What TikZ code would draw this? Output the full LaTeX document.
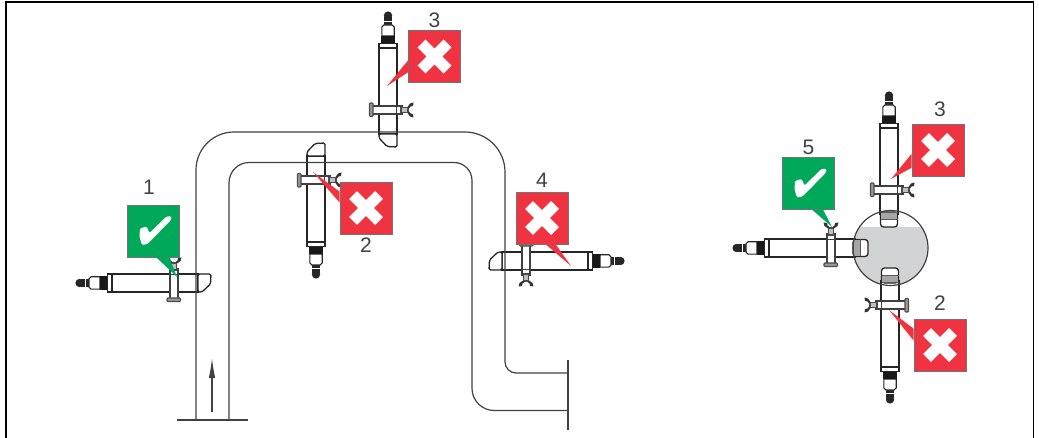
\documentclass[tikz,border=0pt]{standalone}
\usepackage{fontspec}
\setmainfont{Liberation Sans}
\usepackage{tikz}
\usetikzlibrary{positioning, arrows.meta}

\definecolor{okgreen}{HTML}{00A859}
\definecolor{badred}{HTML}{EF3340}
\definecolor{tankgray}{HTML}{D1D3D4}
\definecolor{inkgray}{HTML}{414042}

% head, body and clamp, drawn with the plug upwards
\newcommand{\probebody}{
    \draw[probeline, fill=white] (-9,36) rectangle (9,122);
    \fill[black!85] (0,3.6) circle (4.2);
    \fill[black!85] (-4,5) rectangle (4,13);
    \draw[white, line width=0.5pt] (-4,9.5) -- (4,9.5);
    \draw[probeline, line width=1.1pt, fill=white] (-4,13) -- (-6.2,15) -- (-6.2,24) -- (6.2,24) -- (6.2,15) -- (4,13) -- cycle;
    \fill[black!90] (-7,24) rectangle (7,31.5);
    \draw[probeline, line width=1.1pt, fill=white] (-9,31.5) rectangle (9,36);
    % clamp
    \draw[line width=1.3pt, color=black!75, fill=white] (-15.5,94) rectangle (9,102);
    \draw[line width=1.1pt, color=black!70, fill=black!40, rounded corners=0.8pt] (-18.5,91) rectangle (-15,104.5);
    \draw[line width=1.3pt, color=black!75, fill=white] (9,94) -- (14,94) -- (14,102) -- (9,102);
    \draw[line width=1.2pt, color=black!70, fill=black!25] (13,95.5) rectangle (20,100.5);
    \fill[black!80] (19.5,95) -- (22,91.5) -- (25.5,90.5) -- (25,94) -- (22.5,94.5) -- (21,96.5) -- cycle;
    \fill[black!80] (19.5,101) -- (22,104.5) -- (25.5,105.5) -- (25,102) -- (22.5,101.5) -- (21,99.5) -- cycle;
}

\tikzset{
    probeline/.style={line width=1.3pt, color=black!85},
    pipeline/.style={line width=1.2pt, color=inkgray},
    framing/.style={line width=1.2pt, color=black},
    okbox/.style={rectangle, draw=black!55, line width=0.6pt, fill=okgreen, minimum size=52pt, inner sep=0pt},
    badbox/.style={rectangle, draw=black!55, line width=0.6pt, fill=badred, minimum size=52pt, inner sep=0pt},
    numlabel/.style={font=\fontsize{21}{21}\selectfont, text=inkgray, inner sep=0pt},
    % end with the slanted edge, for the pipe
    pipeprobe/.pic={
        \probebody
        \draw[probeline, fill=white, rounded corners=1.5pt] (-9,122) -- (-9,126) -- (-1,134.5) -- (9,135) -- (9,122) -- cycle;
    },
    % end with the ribs, for the tank
    tankprobe/.pic={
        \probebody
        \draw[probeline, fill=white, rounded corners=3pt] (-8.5,120) -- (-8.5,135) -- (8.5,135) -- (8.5,120) -- cycle;
        \fill[black!35] (-8,121) rectangle (8,127);
        \draw[line width=1pt, color=black!65] (-8.5,120.5) -- (8.5,120.5) (-8.5,127.5) -- (8.5,127.5);
    },
    crossmark/.pic={
        \draw[white, line width=11pt] (-13,-13) -- (13,13) (-13,13) -- (13,-13);
    },
    checkmark/.pic={
        \fill[white, rounded corners=1.2pt] (-13.5,-2.5) -- (-7,-4.5) -- (-4,2) -- (13,-14.5) -- (18,-14.5) -- (17.5,-11) -- (-6,13) -- (-11.5,14) -- (-14,6) -- cycle;
    },
}

\begin{document}
\begin{tikzpicture}
    [
        x=1pt, y=-1pt, on grid,
    ]
        \useasboundingbox (0,0) rectangle (1039,438);
        % frame, open at the bottom
        \draw[framing] (6,438) -- (6,2) -- (1033.5,2) -- (1033.5,438);

        % tank, outline comes after the probes
        \begin{scope}
            \clip (0,228) rectangle (1039,438);
            \fill[tankgray] (890.5,248) circle (37.5);
        \end{scope}

        % probes on the pipe
        \pic[rotate=90] (p1) at (76,283) {pipeprobe};
        \pic[yscale=-1] (p2) at (316,278) {pipeprobe};
        \pic (p3) at (388,12) {pipeprobe};
        \pic[rotate=-90] (p4) at (624,261) {pipeprobe};
        % probes on the tank
        \pic[rotate=180] (t2) at (890,403) {tankprobe};
        \pic (t3) at (889,92) {tankprobe};
        \pic[rotate=90] (t5) at (733,248) {tankprobe};

        \draw[pipeline] (890.5,248) circle (37.5);

        % pipe
        \draw[pipeline] (196,420) -- (196,170) .. controls (196,149) and (213,132) .. (234,132) -- (465,132) .. controls (487,132) and (505,150) .. (505,172) -- (505,362) .. controls (505,368) and (510,373) .. (516,373) -- (568,373);
        \draw[pipeline] (229,420) -- (229,183) .. controls (229,171.5) and (238,162.5) .. (249,162.5) -- (454,162.5) .. controls (464,162.5) and (472,170.5) .. (472,180.5) -- (472,388.5) .. controls (472,400.5) and (482,410.5) .. (494,410.5) -- (568,410.5);
        \draw[pipeline] (177,420) -- (248,420);
        \draw[pipeline, line width=1.3pt] (568,360) -- (568,430);

        % flow direction
        \coordinate (flowtail) at (212,412);
        \coordinate (flowhead) at (212,358);
        \draw[-{Latex[length=20pt, width=6.5pt]}, pipeline] (flowtail) to (flowhead);

        % marks
        \node[okbox] (ok1) at (153.5,231) {};
        \coordinate (ok1tip) at (177,277);
        \fill[okgreen] ([xshift=29pt]ok1.south west) -- ([xshift=42pt]ok1.south west) -- (ok1tip) -- cycle;
        \pic at (ok1) {checkmark};
        \node[numlabel] (n1) [above left = 44pt and 4.5pt of ok1] {1};

        \node[badbox] (bad2) at (366,208) {};
        \coordinate (bad2tip) at (313,172);
        \fill[badred] ([yshift=-10pt]bad2.north west) -- ([yshift=-21pt]bad2.north west) -- (bad2tip) -- cycle;
        \pic at (bad2) {crossmark};
        \node[numlabel] (n2) [below = 37pt of bad2] {2};

        \node[badbox] (bad3) at (434.5,56.5) {};
        \coordinate (bad3tip) at (387,86);
        \fill[badred] ([yshift=-30pt]bad3.north west) -- ([yshift=-42pt]bad3.north west) -- (bad3tip) -- cycle;
        \pic at (bad3) {crossmark};
        \node[numlabel] (n3) [above = 36.5pt of bad3] {3};

        \node[badbox] (bad4) at (542,218) {};
        \coordinate (bad4tip) at (571,266);
        \fill[badred] ([xshift=30pt]bad4.south west) -- ([xshift=40pt]bad4.south west) -- (bad4tip) -- cycle;
        \pic at (bad4) {crossmark};
        \node[numlabel] (n4) [above = 38pt of bad4] {4};

        \node[badbox] (bad5) at (938,150) {};
        \coordinate (bad5tip) at (891,179);
        \fill[badred] ([yshift=-30pt]bad5.north west) -- ([yshift=-44pt]bad5.north west) -- (bad5tip) -- cycle;
        \pic at (bad5) {crossmark};
        \node[numlabel] (n5) [above right = 41pt and 2pt of bad5] {3};

        \node[okbox] (ok2) at (808.5,183.5) {};
        \coordinate (ok2tip) at (832,227);
        \fill[okgreen] ([xshift=30pt]ok2.south west) -- ([xshift=41pt]ok2.south west) -- (ok2tip) -- cycle;
        \pic at (ok2) {checkmark};
        \node[numlabel] (n6) [above = 36.5pt of ok2] {5};

        \node[badbox] (bad6) at (940,345) {};
        \coordinate (bad6tip) at (889,310);
        \fill[badred] ([yshift=-10pt]bad6.north west) -- ([yshift=-22pt]bad6.north west) -- (bad6tip) -- cycle;
        \pic at (bad6) {crossmark};
        \node[numlabel] (n7) [above = 42pt of bad6] {2};
    \end{tikzpicture}
\end{document}
